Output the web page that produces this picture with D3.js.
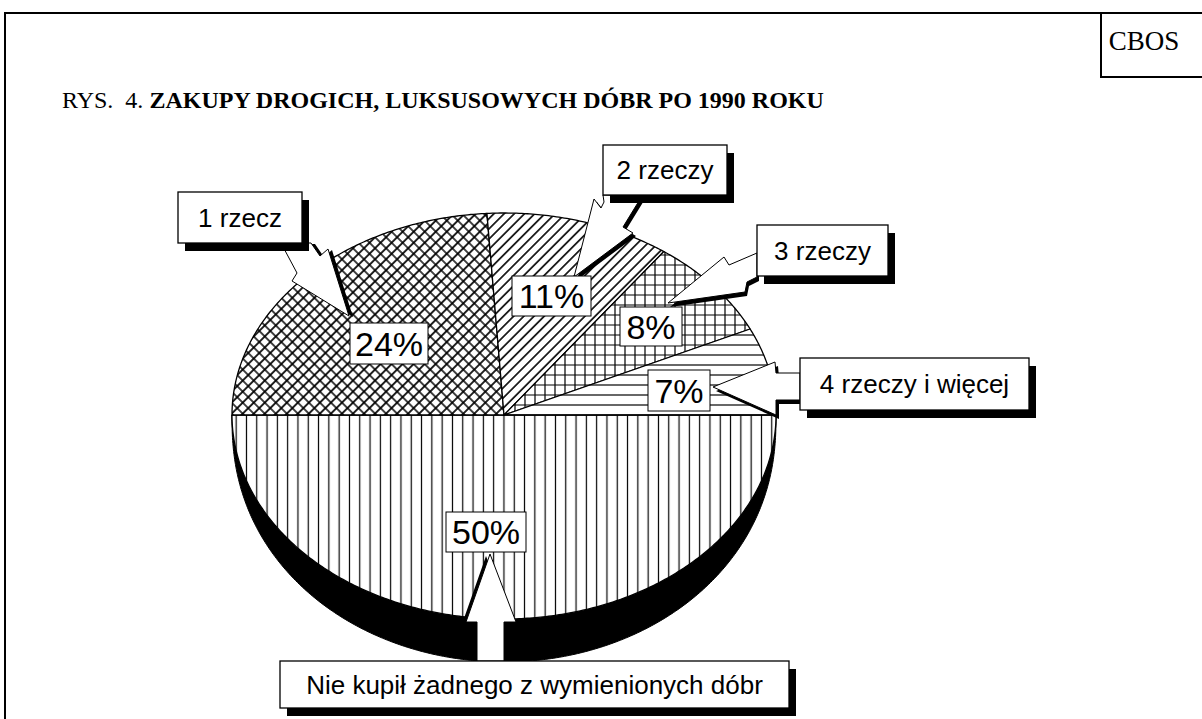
<!DOCTYPE html>
<html>
<head>
<meta charset="utf-8">
<script src="https://cdn.jsdelivr.net/npm/d3@7"></script>
<style>
  body { margin: 0; background: #fff; }
  text { white-space: pre; }
</style>
</head>
<body>
<svg id="chart"></svg>
<script>
// data
const categories = ['Nie kupił żadnego z wymienionych dóbr', '1 rzecz', '2 rzeczy', '3 rzeczy', '4 rzeczy i więcej']
const shares = [50, 24, 11, 8, 7]
const fills = ['vert', 'cross', 'diag', 'grid', 'horiz']

const titlePrefix = 'RYS.  4. '
const titleText = 'ZAKUPY DROGICH, LUKSUSOWYCH DÓBR PO 1990 ROKU'
const source = 'CBOS'

// layout of the annotation boxes and arrows, same order as categories
const tagBoxes = [[446, 512, 80, 40], [350, 323, 78, 41], [512, 276, 79, 40], [620, 307, 62, 39], [648, 370, 62, 41]]
const calloutBoxes = [[280, 661, 509, 47], [178, 192, 124, 51], [603, 145, 124, 50], [757, 225, 131, 51], [800, 358, 229, 52]]
const arrows = [
    { pts: [[490, 554], [516, 622], [504, 622], [504, 661], [477, 661], [477, 622], [466, 622]], off: [-4, 2] },
    { pts: [[281, 243], [297, 273], [292, 281], [349, 316], [328, 249], [320, 256], [311, 243]], off: [4, 1] },
    { pts: [[603, 195], [604, 202], [601, 208], [594, 199], [574, 277], [633, 233], [623, 227], [642, 196]], off: [3, 3] },
    { pts: [[757, 253], [729, 265], [724, 257], [668, 303], [745, 292], [747, 282], [757, 277]], off: [2, 4] },
    { pts: [[713, 387], [775, 362], [776, 373], [800, 373], [800, 400], [776, 400], [776, 415]], off: [3, 4] }
]

drawChart()

function drawChart() {

    const width = 1202
    const height = 719
    const cx = 504, cy = 415
    const rx = 272, ryTop = 202, ryBot = 204, depth = 43

    const svg = d3.select('#chart')
        .attr('width', width)
        .attr('height', height)

    svg.append('rect')
        .attr('width', width)
        .attr('height', height)
        .style('fill', '#fff')

    // hatch patterns
    const defs = svg.append('defs')
    const pat = (id, size, d, rot, sw, x0) => {
        const p = defs.append('pattern')
            .attr('id', id)
            .attr('patternUnits', 'userSpaceOnUse')
            .attr('width', size)
            .attr('height', size)
            .attr('x', x0 || 0)
        if (rot) p.attr('patternTransform', `rotate(${rot})`)
        p.append('rect').attr('width', size).attr('height', size).style('fill', '#fff')
        p.append('path').attr('d', d).style('stroke', '#000').style('stroke-width', sw).style('fill', 'none')
    }
    pat('vert', 10.3, 'M5.15,0V10.3', 0, 1.2, 231)
    pat('horiz', 10, 'M0,5H10', 0, 1.2)
    pat('grid', 10, 'M5,0V10M0,5H10', 0, 1.2)
    pat('diag', 7.2, 'M3.6,0V7.2', 45, 1.6)
    pat('cross', 7.8, 'M3.9,0V7.8M0,3.9H7.8', 45, 1.7)

    // frame
    svg.append('path')
        .attr('d', `M5,${height}V13H${width}`)
        .style('fill', 'none').style('stroke', '#000').style('stroke-width', 2)
    svg.append('path')
        .attr('d', `M1101,13V77H${width}`)
        .style('fill', 'none').style('stroke', '#000').style('stroke-width', 2)
    svg.append('text')
        .attr('x', 1144).attr('y', 50)
        .attr('text-anchor', 'middle')
        .style('font-family', 'Liberation Serif, Times New Roman, serif')
        .style('font-size', '27px')
        .text(source)

    const title = svg.append('text')
        .attr('x', 62).attr('y', 108)
        .style('font-family', 'Liberation Serif, Times New Roman, serif')
        .style('font-size', '24px')
    title.append('tspan').text(titlePrefix)
    title.append('tspan').style('font-weight', 'bold').text(titleText)

    // perspective pie
    const proj = (a) => {
        const c = Math.cos(a)
        const ry = c > 0 ? ryTop : ryBot
        return [cx + rx * Math.sin(a), cy - c * ry]
    }
    // lower rim of the side, thicker towards the front
    const projLow = (a) => {
        const v = Math.max(0, -Math.cos(a))
        return [cx + rx * Math.sin(a), cy + v * ryBot + depth * Math.sqrt(v)]
    }
    const arcPts = (a0, a1, f) => {
        const n = Math.max(6, Math.ceil(Math.abs(a1 - a0) / 0.01))
        return d3.range(n + 1).map(i => (f || proj)(a0 + (a1 - a0) * i / n))
    }
    const line = d3.line()

    // side of the pie
    const sidePts = arcPts(Math.PI / 2, Math.PI * 1.5).concat(arcPts(Math.PI * 1.5, Math.PI / 2, projLow))
    svg.append('path')
        .attr('d', line(sidePts) + 'Z')
        .style('fill', '#000')
        .style('stroke', '#000')
        .style('stroke-width', 1)

    const pie = d3.pie().sort(null)
        .startAngle(Math.PI / 2)
        .endAngle(Math.PI / 2 + 2 * Math.PI)
    const slices = pie(shares)

    svg.append('g').selectAll('path')
        .data(slices)
        .join('path')
        .attr('d', d => line([[cx, cy]].concat(arcPts(d.startAngle, d.endAngle))) + 'Z')
        .style('fill', (d, i) => `url(#${fills[i]})`)
        .style('stroke', '#000')
        .style('stroke-width', 1.3)
        .style('stroke-linejoin', 'round')

    // arrows with shadow
    const ag = svg.append('g')
    arrows.forEach(a => {
        ag.append('path')
            .attr('d', line(a.pts) + 'Z')
            .attr('transform', `translate(${a.off[0]},${a.off[1]})`)
            .style('fill', '#000')
        ag.append('path')
            .attr('d', line(a.pts) + 'Z')
            .style('fill', '#fff')
            .style('stroke', '#000')
            .style('stroke-width', 1)
            .style('stroke-linejoin', 'miter')
    })

    // percentage tags
    const tags = svg.append('g').selectAll('g')
        .data(slices)
        .join('g')
    tags.append('rect')
        .attr('x', (d, i) => tagBoxes[i][0])
        .attr('y', (d, i) => tagBoxes[i][1])
        .attr('width', (d, i) => tagBoxes[i][2])
        .attr('height', (d, i) => tagBoxes[i][3])
        .style('fill', '#fff')
        .style('stroke', '#000')
        .style('stroke-width', 1)
    tags.append('text')
        .attr('x', (d, i) => tagBoxes[i][0] + tagBoxes[i][2] / 2)
        .attr('y', (d, i) => tagBoxes[i][1] + tagBoxes[i][3] / 2 + 12)
        .attr('text-anchor', 'middle')
        .style('font-family', 'Liberation Sans, Arial, sans-serif')
        .style('font-size', '34px')
        .text(d => d.data + '%')

    // category callouts
    const callouts = svg.append('g').selectAll('g')
        .data(categories)
        .join('g')
    callouts.append('rect')
        .attr('x', (d, i) => calloutBoxes[i][0] + 7)
        .attr('y', (d, i) => calloutBoxes[i][1] + 8)
        .attr('width', (d, i) => calloutBoxes[i][2])
        .attr('height', (d, i) => calloutBoxes[i][3])
        .style('fill', '#000')
    callouts.append('rect')
        .attr('x', (d, i) => calloutBoxes[i][0])
        .attr('y', (d, i) => calloutBoxes[i][1])
        .attr('width', (d, i) => calloutBoxes[i][2])
        .attr('height', (d, i) => calloutBoxes[i][3])
        .style('fill', '#fff')
        .style('stroke', '#000')
        .style('stroke-width', 1.3)
    callouts.append('text')
        .attr('x', (d, i) => calloutBoxes[i][0] + calloutBoxes[i][2] / 2)
        .attr('y', (d, i) => calloutBoxes[i][1] + calloutBoxes[i][3] / 2 + 9)
        .attr('text-anchor', 'middle')
        .style('font-family', 'Liberation Sans, Arial, sans-serif')
        .style('font-size', '26px')
        .text(d => d)
}
</script>
</body>
</html>
